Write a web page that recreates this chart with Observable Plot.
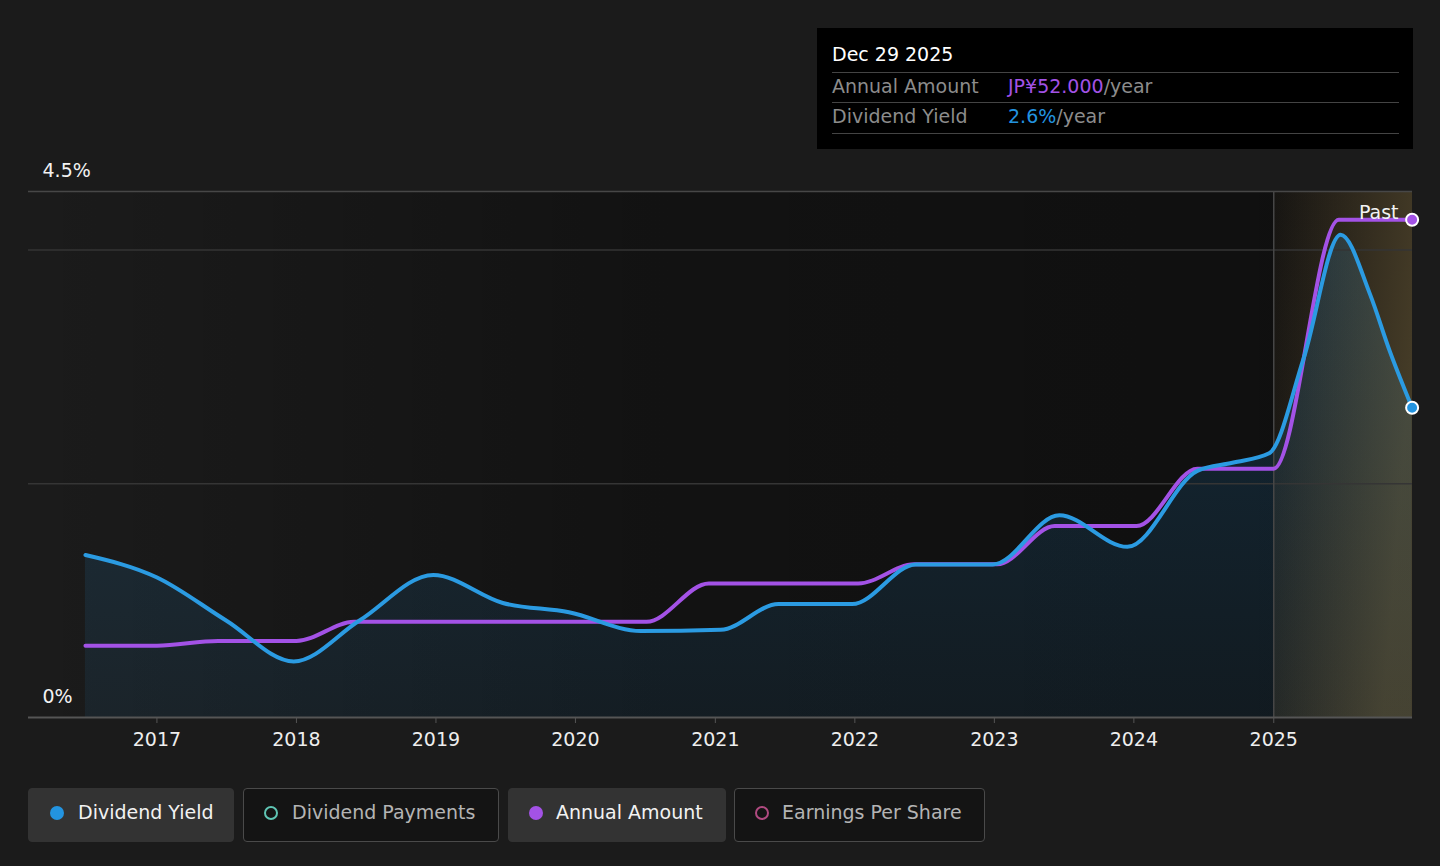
<!DOCTYPE html>
<html>
<head>
<meta charset="utf-8">
<script src="https://cdn.jsdelivr.net/npm/d3@7"></script>
<script src="https://cdn.jsdelivr.net/npm/@observablehq/plot@0.6"></script>
<style>
  html, body { margin: 0; padding: 0; }
  body { background: #1b1b1b; width: 1440px; height: 866px; overflow: hidden; position: relative;
         font-family: "DejaVu Sans", sans-serif; }
  #chart { position: absolute; left: 0; top: 0; }
  #tip { position: absolute; left: 817px; top: 28px; width: 596px; height: 121px; background: #000; }
  #tip .date { position: absolute; left: 15px; top: 15px; font-size: 19px; color: #fff; }
  #tip .rule { position: absolute; left: 15px; width: 567px; height: 0; border-top: 1.5px solid #444; }
  #tip .row { position: absolute; left: 15px; font-size: 19px; color: #8c8c8c; white-space: nowrap; }
  #tip .row .val { position: absolute; left: 176px; top: 0; }
  #legend { position: absolute; left: 28px; top: 788px; height: 54px; }
  .btn { position: absolute; top: 0; height: 54px; box-sizing: border-box; border-radius: 4px;
         font-size: 19px; line-height: 46px; white-space: nowrap; }
  .btn.on { background: #333; color: #f2f2f2; border: 1px solid #333; }
  .btn.off { background: #141414; color: #b4b4b4; border: 1.5px solid #4a4a4a; }
  .btn .dot { position: absolute; top: 17px; width: 14px; height: 14px; border-radius: 50%; box-sizing: border-box; }
  .btn .lbl { position: absolute; top: 0; }
</style>
</head>
<body>
<div id="chart"></div>
<div id="tip">
  <div class="date">Dec 29 2025</div>
  <div class="rule" style="top:44px"></div>
  <div class="row" style="top:47px">Annual Amount<span class="val"><span style="color:#a352e6">JP¥52.000</span>/year</span></div>
  <div class="rule" style="top:74px"></div>
  <div class="row" style="top:77px">Dividend Yield<span class="val"><span style="color:#2394e0">2.6%</span>/year</span></div>
  <div class="rule" style="top:105px"></div>
</div>
<div id="legend">
  <div class="btn on" style="left:0;width:206px"><span class="dot" style="left:21px;background:#2394e0"></span><span class="lbl" style="left:49px">Dividend Yield</span></div>
  <div class="btn off" style="left:215px;width:256px"><span class="dot" style="left:20px;border:2px solid #5fc5b4"></span><span class="lbl" style="left:48px">Dividend Payments</span></div>
  <div class="btn on" style="left:480px;width:218px"><span class="dot" style="left:20px;background:#a352e6"></span><span class="lbl" style="left:47px">Annual Amount</span></div>
  <div class="btn off" style="left:706px;width:251px"><span class="dot" style="left:20px;border:2px solid #b04a80"></span><span class="lbl" style="left:47px">Earnings Per Share</span></div>
</div>
<script>
// ---- data ----
const yieldDates = ["2016-06-28","2016-12-31","2017-07-01","2017-12-25","2018-06-15","2018-12-25",
  "2019-06-25","2019-12-15","2020-06-20","2021-01-15","2021-06-15","2021-12-25","2022-06-10",
  "2022-12-28","2023-06-20","2023-12-15","2024-06-15","2024-09-15","2024-12-20","2025-03-20",
  "2025-06-25","2025-09-10","2025-11-01","2025-12-29"];
const yieldValues = [1.39,1.20,0.83,0.48,0.83,1.22,0.98,0.90,0.74,0.75,0.97,0.97,1.31,1.31,1.73,1.46,
  2.11,2.18,2.26,3.07,4.13,3.62,3.13,2.65];

const amountDates = ["2016-06-28","2017-01-01","2017-06-10","2018-01-01","2018-06-01","2020-07-05",
  "2020-12-15","2022-01-10","2022-06-05","2023-01-08","2023-06-08","2024-01-08","2024-06-15",
  "2025-01-01","2025-06-20","2025-12-29"];
const amountValues = [7.5,7.5,8,8,10,10,14,14,16,16,20,20,26,26,52,52];

const yearTicks = ["2017","2018","2019","2020","2021","2022","2023","2024","2025"];
const yLabelValues = [0, 4.5];
const gridValues = [2, 4];
const xDomain = ["2016-01-31","2025-12-30"];
const yDomain = [0, 4.5];
const pastStart = "2025-01-01";
const amountMaxPct = 4.258; // position of the amount series' max on the shared % axis
const pastLabel = ["Past"];

// ---- build ----
const parse = d3.utcParse("%Y-%m-%d");
const amountToPct = amountMaxPct / d3.max(amountValues);
const yieldData = yieldDates.map((d, i) => ({date: parse(d), value: yieldValues[i]}));
const amountData = amountDates.map((d, i) => ({date: parse(d), value: amountValues[i] * amountToPct}));
const x0 = parse(xDomain[0]), x1 = parse(xDomain[1]), xp = parse(pastStart);

const defs = () => {
  const g = d3.create("svg:defs");
  const bg = g.append("linearGradient").attr("id", "bgGrad").attr("x1", 0).attr("x2", 1).attr("y1", 0).attr("y2", 0);
  bg.append("stop").attr("offset", 0).attr("stop-color", "#000").attr("stop-opacity", 0);
  bg.append("stop").attr("offset", 0.45).attr("stop-color", "#000").attr("stop-opacity", 0.33);
  bg.append("stop").attr("offset", 1).attr("stop-color", "#000").attr("stop-opacity", 0.45);
  const ar = g.append("linearGradient").attr("id", "areaGrad").attr("x1", 0).attr("x2", 0).attr("y1", 0).attr("y2", 1);
  ar.append("stop").attr("offset", 0).attr("stop-color", "#2394e0").attr("stop-opacity", 0.2);
  ar.append("stop").attr("offset", 1).attr("stop-color", "#2394e0").attr("stop-opacity", 0.08);
  const pa = g.append("linearGradient").attr("id", "pastGrad").attr("x1", 0).attr("x2", 1).attr("y1", 0).attr("y2", 0.3);
  pa.append("stop").attr("offset", 0).attr("stop-color", "#c09a5a").attr("stop-opacity", 0.04);
  pa.append("stop").attr("offset", 1).attr("stop-color", "#c0a25e").attr("stop-opacity", 0.3);
  return g.node();
};

const chart = Plot.plot({
  width: 1440,
  height: 760,
  marginLeft: 28,
  marginRight: 28,
  marginTop: 191,
  marginBottom: 43,
  style: {background: "transparent", fontFamily: "DejaVu Sans, sans-serif", fontSize: "19px", color: "#eee"},
  x: {type: "utc", domain: [x0, x1]},
  y: {domain: yDomain, axis: null},
  marks: [
    defs,
    Plot.rect([{a: x0, b: x1}], {x1: "a", x2: "b", y1: yDomain[0], y2: yDomain[1], fill: "url(#bgGrad)"}),
    Plot.areaY(yieldData, {x: "date", y: "value", curve: "monotone-x", fill: "url(#areaGrad)"}),
    Plot.rect([{a: xp, b: x1}], {x1: "a", x2: "b", y1: yDomain[0], y2: yDomain[1], fill: "url(#pastGrad)"}),
    Plot.ruleY(gridValues, {stroke: "#353535", strokeWidth: 1.5}),
    Plot.ruleY([yDomain[1]], {stroke: "#474747", strokeWidth: 1.5}),
    Plot.ruleX([xp], {y1: yDomain[0], y2: yDomain[1], stroke: "#474747", strokeWidth: 1.5}),
    Plot.ruleY([0], {stroke: "#555", strokeWidth: 2}),
    Plot.axisX({ticks: yearTicks.map(d => parse(d + "-01-01")), tickFormat: d3.utcFormat("%Y"),
      tickSize: 6, tickPadding: 9, stroke: "#555", color: "#eee", fontSize: 19, label: null}),
    Plot.text(yLabelValues, {x: x0, y: d => d, text: d => d + "%", textAnchor: "start", dx: 14, dy: -21,
      fill: "#f2f2f2", fontSize: 19}),
    Plot.lineY(amountData, {x: "date", y: "value", curve: "monotone-x", stroke: "#a352e6", strokeWidth: 4}),
    Plot.lineY(yieldData, {x: "date", y: "value", curve: "monotone-x", stroke: "#2b9be2", strokeWidth: 4}),
    Plot.dot([amountData[amountData.length - 1]], {x: "date", y: "value", r: 6, fill: "#a352e6", stroke: "#fff", strokeWidth: 2}),
    Plot.dot([yieldData[yieldData.length - 1]], {x: "date", y: "value", r: 6, fill: "#2394e0", stroke: "#fff", strokeWidth: 2}),
    Plot.text(pastLabel, {x: x1, y: amountData[amountData.length - 1].value, text: d => d, textAnchor: "end",
      dx: -14, dy: -7, fill: "#f2f2f2", fontSize: 19})
  ]
});
document.getElementById("chart").appendChild(chart);
</script>
</body>
</html>
